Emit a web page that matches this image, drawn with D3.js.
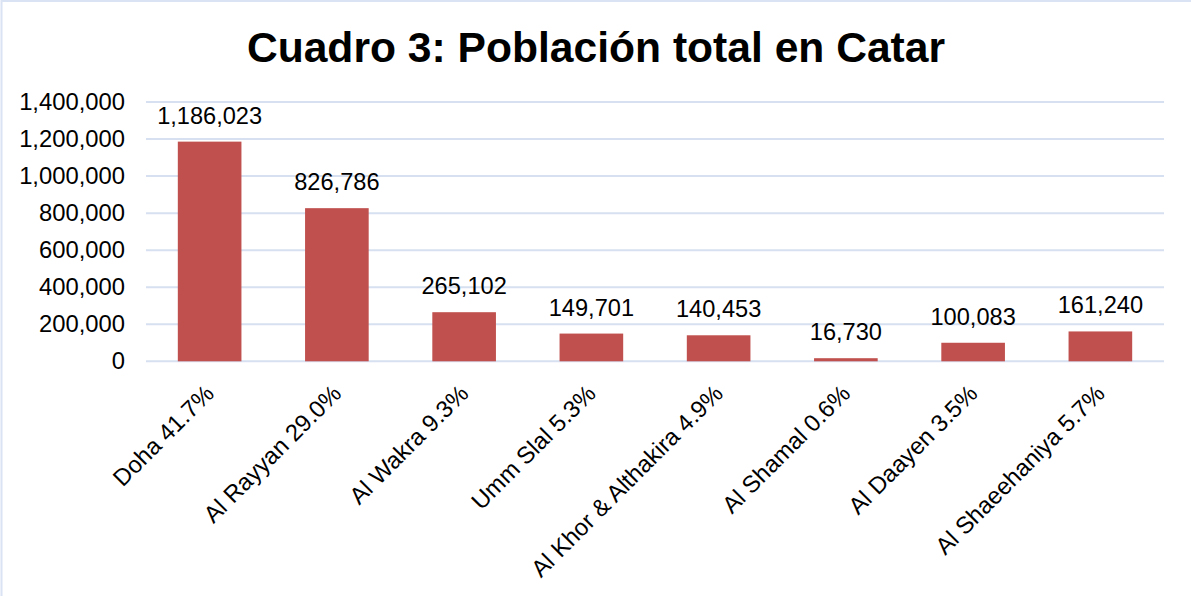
<!DOCTYPE html>
<html>
<head>
<meta charset="utf-8">
<script src="https://cdn.jsdelivr.net/npm/d3@7"></script>
<style>
    body { margin: 0; background: #fff; }
    svg { display: block; font-family: 'Liberation Sans', Arial, sans-serif; }
</style>
</head>
<body>
<svg width="1191" height="596"></svg>
<script>
// Data
const regions = ['Doha', 'Al Rayyan', 'Al Wakra', 'Umm Slal', 'Al Khor & Althakira', 'Al Shamal', 'Al Daayen', 'Al Shaeehaniya'];
const shares = ['41.7%', '29.0%', '9.3%', '5.3%', '4.9%', '0.6%', '3.5%', '5.7%'];
const population = [1186023, 826786, 265102, 149701, 140453, 16730, 100083, 161240];
const yTicks = [0, 200000, 400000, 600000, 800000, 1000000, 1200000, 1400000];

function drawChart() {
    const width = 1191;
    const height = 596;
    const padding = {
        top: 102,
        right: 27,
        bottom: 234,
        left: 146
    }
    const svg = d3.select('svg');
    svg.selectAll('*').remove();

    const labels = regions.map((r, i) => `${r} ${shares[i]}`);

    // Outer chart border (only top/left are visible in the crop)
    svg.append('rect')
        .attr('x', 1.5)
        .attr('y', 1)
        .attr('width', width + 10)
        .attr('height', height + 10)
        .attr('fill', 'none')
        .attr('stroke', '#d9e3f3')
        .attr('stroke-width', 2);

    const xScale = d3.scaleBand()
        .domain(labels)
        .range([padding.left, width - padding.right])
        .paddingInner(0.5)
        .paddingOuter(0.25);

    const yScale = d3.scaleLinear()
        .domain([0, 1400000])
        .range([height - padding.bottom - 0.7, padding.top]);

    // Gridlines
    svg.append('g')
        .selectAll('line')
        .data(yTicks)
        .join('line')
        .attr('x1', padding.left)
        .attr('x2', width - padding.right)
        .attr('y1', d => yScale(d))
        .attr('y2', d => yScale(d))
        .attr('stroke', '#d6e0f1')
        .attr('stroke-width', 2);

    // Bars
    svg.selectAll('.bar')
        .data(population)
        .join('rect')
        .attr('class', 'bar')
        .attr('x', (d, i) => xScale(labels[i]))
        .attr('y', d => yScale(d))
        .attr('width', xScale.bandwidth())
        .attr('height', d => yScale(0) - yScale(d))
        .attr('fill', '#c0504d');

    // Value labels
    svg.selectAll('.value')
        .data(population)
        .join('text')
        .attr('class', 'value')
        .attr('x', (d, i) => xScale(labels[i]) + xScale.bandwidth() / 2)
        .attr('y', d => yScale(d) - 18)
        .attr('text-anchor', 'middle')
        .style('font-size', '23.6px')
        .style('fill', '#000')
        .text(d => d3.format(',')(d));

    // Y axis
    const yAxis = d3.axisLeft(yScale)
        .tickValues(yTicks)
        .tickFormat(d3.format(','))
        .tickSize(0)
        .tickPadding(21);
    const yG = svg.append('g')
        .attr('transform', `translate(${padding.left}, 0)`)
        .call(yAxis);
    yG.select('.domain').remove();
    yG.selectAll('text')
        .style('font-size', '23.8px')
        .style('font-family', "'Liberation Sans', Arial, sans-serif")
        .attr('fill', '#000');

    // X axis
    const xAxis = d3.axisBottom(xScale).tickSize(0).tickPadding(0);
    const xG = svg.append('g')
        .attr('transform', `translate(0, ${yScale(0)})`)
        .call(xAxis);
    xG.select('.domain').remove();
    xG.selectAll('text')
        .style('font-size', '23.8px')
        .style('font-family', "'Liberation Sans', Arial, sans-serif")
        .attr('fill', '#000')
        .attr('text-anchor', 'end')
        .attr('dy', '0.7em')
        .attr('transform', 'translate(-6, 22) rotate(-45)');

    // Title
    svg.append('text')
        .text('Cuadro 3: Población total en Catar')
        .attr('x', 596)
        .attr('y', 62)
        .attr('text-anchor', 'middle')
        .style('font-size', '42.6px')
        .style('font-weight', 'bold')
        .style('fill', '#000');
}

window.addEventListener('load', drawChart);
</script>
</body>
</html>
